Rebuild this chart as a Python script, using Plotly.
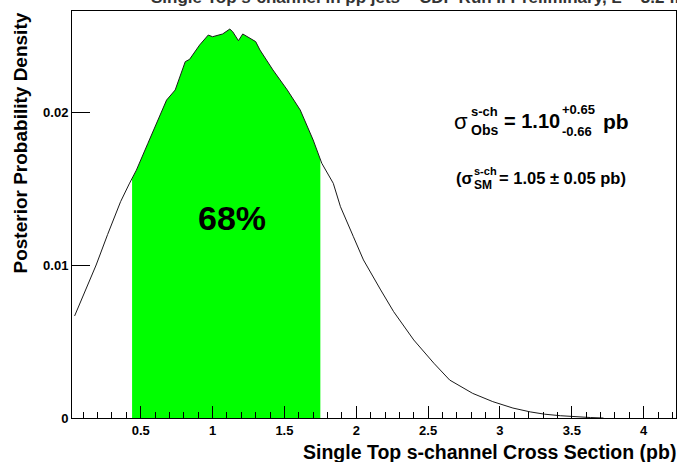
import numpy as np
import plotly.graph_objects as go

# Posterior probability density for the s-channel cross section (pb)
xsec = [0.04, 0.10, 0.19, 0.27, 0.36, 0.42, 0.47, 0.55, 0.63, 0.68, 0.74, 0.79,
        0.81, 0.84, 0.91, 0.97, 1.00, 1.07, 1.12, 1.14, 1.18, 1.21, 1.26, 1.30,
        1.33, 1.42, 1.52, 1.61, 1.70, 1.76, 1.84, 1.89, 1.98, 2.05, 2.17, 2.26,
        2.40, 2.54, 2.65, 2.81, 2.95, 3.09, 3.21, 3.31, 3.42, 3.52, 3.63, 3.72]
density = [0.00667, 0.00800, 0.01000, 0.01200, 0.01414, 0.01530, 0.01620, 0.01795,
           0.01969, 0.02078, 0.02144, 0.02275, 0.02329, 0.02344, 0.02438, 0.02503,
           0.02492, 0.02510, 0.02542, 0.02525, 0.02466, 0.02510, 0.02482, 0.02460,
           0.02405, 0.02275, 0.02144, 0.02013, 0.01817, 0.01665, 0.01534, 0.01381,
           0.01185, 0.01033, 0.00837, 0.00695, 0.00510, 0.00358, 0.00248, 0.00161,
           0.00107, 0.00065, 0.00040, 0.00025, 0.00015, 0.00008, 0.00003, 0.00000]

# Measured value and 68% interval
sigma_obs = 1.10
err_up = 0.65
err_dn = 0.66
sigma_sm = 1.05
err_sm = 0.05
coverage = "68%"

x_ticks = [0.5, 1, 1.5, 2, 2.5, 3, 3.5, 4]
x_tick_text = ["0.5", "1", "1.5", "2", "2.5", "3", "3.5", "4"]
y_ticks = [0, 0.01, 0.02]
y_tick_text = ["0", "0.01", "0.02"]

FONT = "Liberation Sans"
W_FIG, H_FIG = 677, 462
ML, MR, MT, MB = 72, 1, 11, 44
PW = W_FIG - ML - MR
PH = H_FIG - MT - MB
Y0 = H_FIG - MB


def px(xp):
    return (xp - ML) / PW


def py(yp):
    return (Y0 - yp) / PH


lo = sigma_obs - err_dn
hi = sigma_obs + err_up
band_x = [lo] + [v for v in xsec if lo < v < hi] + [hi]
band_y = list(np.interp(band_x, xsec, density))

fig = go.Figure()
fig.add_trace(go.Scatter(x=band_x, y=band_y, mode="lines", fill="tozeroy",
                         fillcolor="#00ff00", line=dict(width=0, color="#00ff00"),
                         hoverinfo="skip", showlegend=False))
fig.add_trace(go.Scatter(x=xsec, y=density, mode="lines",
                         line=dict(color="#1a1a1a", width=1),
                         showlegend=False))


def txt(x, y, s, size, xa="left", ya="middle", angle=0, color="black", bold=True):
    fig.add_annotation(x=px(x), y=py(y), xref="paper", yref="paper", text=s,
                       showarrow=False, xanchor=xa, yanchor=ya, textangle=angle,
                       borderpad=0,
                       font=dict(family=FONT, size=size, color=color,
                                 weight="bold" if bold else "normal"))


# Title (sits above the frame)
txt(150, -3, "Single Top s-channel in pp̄ jets – CDF Run II Preliminary, L = 3.2 fb⁻¹",
    17, color="#333333")

# Axis titles
txt(677, 452, "Single Top s-channel Cross Section (pb)", 19.5, xa="right")
txt(20, 12, "Posterior Probability Density", 19, xa="center", ya="top", angle=-90)

# Coverage label
txt(232, 218, coverage, 34, xa="center")

# Observed cross section
txt(453, 121, "σ", 22, bold=False)
txt(470, 111, "s-ch", 13)
txt(470, 130, "Obs", 14)
txt(503, 121, f"= {sigma_obs:.2f}", 20)
txt(561, 110, f"+{err_up:.2f}", 13)
txt(561, 131, f"-{err_dn:.2f}", 13)
txt(602, 121, "pb", 21)

# Standard Model expectation
txt(455, 178, "(σ", 16.5)
txt(473, 171, "s-ch", 11)
txt(473, 185, "SM", 12)
txt(498, 178, f"= {sigma_sm:.2f} ± {err_sm:.2f} pb)", 16.5)

x_lo = (ML - 68.85) / 143.71
x_hi = (W_FIG - MR - 68.85) / 143.71
y_hi = PH / 15300.0

fig.update_layout(
    width=W_FIG, height=H_FIG,
    margin=dict(l=ML, r=MR, t=MT, b=MB, pad=0),
    paper_bgcolor="white", plot_bgcolor="white",
    font=dict(family=FONT, size=13, color="black", weight="bold"),
    xaxis=dict(range=[x_lo, x_hi], tickvals=x_ticks, ticktext=x_tick_text,
               ticks="inside", ticklen=12, tickwidth=1, tickcolor="black",
               showgrid=False, zeroline=False, showline=True, linecolor="black",
               linewidth=1, mirror=True, automargin=False,
               tickfont=dict(family=FONT, size=13, weight="bold"),
               minor=dict(dtick=0.1, tick0=0, ticks="inside", ticklen=6,
                          tickcolor="black", tickwidth=1, showgrid=False)),
    yaxis=dict(range=[0, y_hi], tickvals=y_ticks, ticktext=y_tick_text,
               ticks="inside", ticklen=18, tickwidth=1, tickcolor="black",
               showgrid=False, zeroline=False, showline=True, linecolor="black",
               linewidth=1, mirror=True, automargin=False,
               tickfont=dict(family=FONT, size=13, weight="bold")),
)

fig.write_html("out.html")
